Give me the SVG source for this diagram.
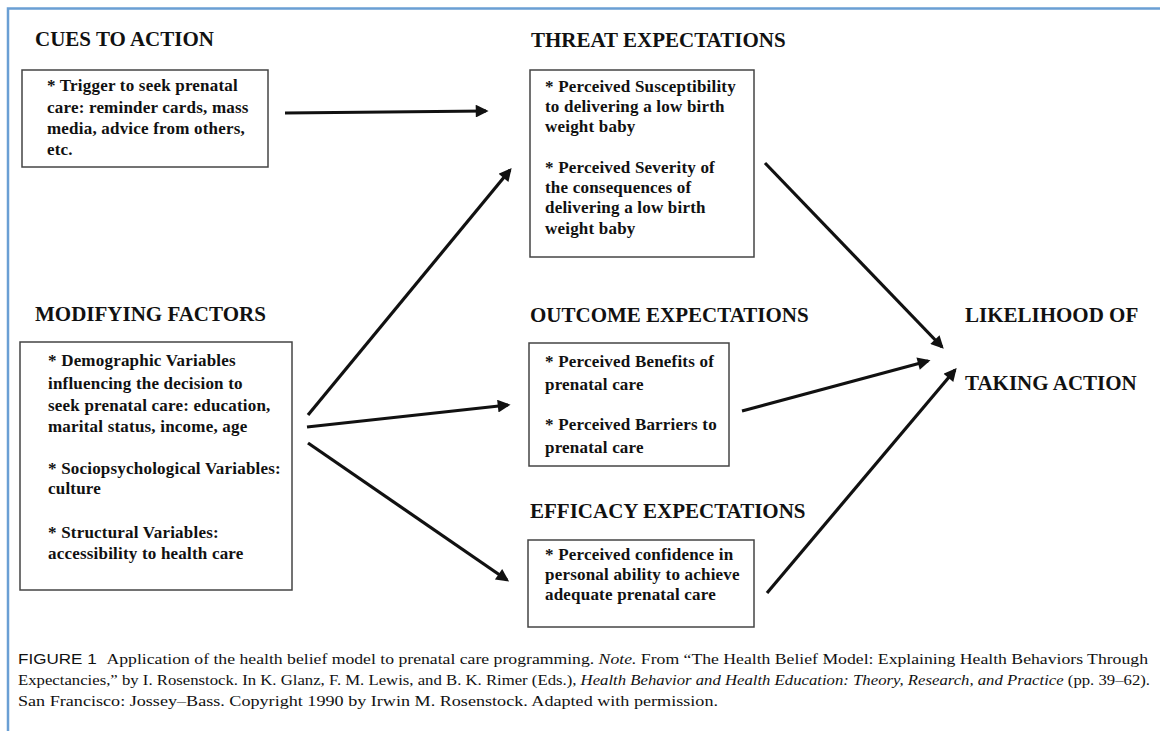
<svg xmlns="http://www.w3.org/2000/svg" width="1160" height="731" viewBox="0 0 1160 731">
<defs>
<style>
.h{font-family:"Liberation Serif","Times New Roman",serif;font-weight:bold;font-size:21px;fill:#111}
.t{font-family:"Liberation Serif","Times New Roman",serif;font-weight:bold;font-size:17px;letter-spacing:0.2px;fill:#111}
.box{fill:#fff;stroke:#444;stroke-width:1.5}
.c{stroke:#111;stroke-width:3.2;fill:none;marker-end:url(#ah)}
.cap{font-family:"Liberation Serif","Times New Roman",serif;font-size:14.5px;fill:#111}
.capsans{font-family:"Liberation Sans",Arial,sans-serif;font-size:14px}
</style>
<marker id="ah" viewBox="0 0 10 10" refX="8" refY="5" markerWidth="4.6" markerHeight="4" orient="auto" markerUnits="strokeWidth">
<path d="M0,0 L10,5 L0,10 z" fill="#111"/>
</marker>
</defs>
<rect width="1160" height="731" fill="#fff"/>
<path d="M8,731 V8.5 H1160" fill="none" stroke="#6a9fd4" stroke-width="2.5"/>

<g id="cues">
<text class="h" x="35" y="46">CUES TO ACTION</text>
<rect class="box" x="22" y="70" width="246" height="97"/>
<text class="t" x="47" y="91">* Trigger to seek prenatal</text>
<text class="t" x="47" y="113">care: reminder cards, mass</text>
<text class="t" x="47" y="134">media, advice from others,</text>
<text class="t" x="47" y="155">etc.</text>
</g>

<g id="threat">
<text class="h" x="531" y="47">THREAT EXPECTATIONS</text>
<rect class="box" x="530" y="70" width="224" height="187"/>
<text class="t" x="545" y="92">* Perceived Susceptibility</text>
<text class="t" x="545" y="112">to delivering a low birth</text>
<text class="t" x="545" y="132">weight baby</text>
<text class="t" x="545" y="173">* Perceived Severity of</text>
<text class="t" x="545" y="193">the consequences of</text>
<text class="t" x="545" y="213">delivering a low birth</text>
<text class="t" x="545" y="234">weight baby</text>
</g>

<g id="modifying">
<text class="h" x="35" y="321">MODIFYING FACTORS</text>
<rect class="box" x="20" y="342" width="272" height="248"/>
<text class="t" x="48" y="366">* Demographic Variables</text>
<text class="t" x="48" y="389">influencing the decision to</text>
<text class="t" x="48" y="411">seek prenatal care: education,</text>
<text class="t" x="48" y="432">marital status, income, age</text>
<text class="t" x="48" y="474">* Sociopsychological Variables:</text>
<text class="t" x="48" y="494">culture</text>
<text class="t" x="48" y="538">* Structural Variables:</text>
<text class="t" x="48" y="559">accessibility to health care</text>
</g>

<g id="outcome">
<text class="h" x="530" y="322">OUTCOME EXPECTATIONS</text>
<rect class="box" x="529" y="343" width="200" height="123"/>
<text class="t" x="545" y="367">* Perceived Benefits of</text>
<text class="t" x="545" y="390">prenatal care</text>
<text class="t" x="545" y="430">* Perceived Barriers to</text>
<text class="t" x="545" y="453">prenatal care</text>
</g>

<g id="efficacy">
<text class="h" x="530" y="518">EFFICACY EXPECTATIONS</text>
<rect class="box" x="528" y="540" width="226" height="87"/>
<text class="t" x="545" y="560">* Perceived confidence in</text>
<text class="t" x="545" y="580">personal ability to achieve</text>
<text class="t" x="545" y="600">adequate prenatal care</text>
</g>

<g id="likelihood">
<text class="h" x="965" y="322">LIKELIHOOD OF</text>
<text class="h" x="965" y="390">TAKING ACTION</text>
</g>

<g id="connectors">
<line class="c" x1="285" y1="113" x2="486" y2="111"/>
<line class="c" x1="308" y1="415" x2="510" y2="170"/>
<line class="c" x1="307" y1="427" x2="508" y2="405"/>
<line class="c" x1="308" y1="443" x2="507" y2="580"/>
<line class="c" x1="765" y1="163" x2="942" y2="347"/>
<line class="c" x1="742" y1="411" x2="928" y2="361"/>
<line class="c" x1="767" y1="593" x2="955" y2="370"/>
</g>

<g id="caption">
<text class="cap" x="18" y="664" textLength="1130" lengthAdjust="spacingAndGlyphs"><tspan class="capsans">FIGURE 1</tspan><tspan dx="8">Application of the health belief model to prenatal care programming. </tspan><tspan font-style="italic">Note.</tspan> From “The Health Belief Model: Explaining Health Behaviors Through</text>
<text class="cap" x="18" y="685" textLength="1132" lengthAdjust="spacingAndGlyphs">Expectancies,” by I. Rosenstock. In K. Glanz, F. M. Lewis, and B. K. Rimer (Eds.), <tspan font-style="italic">Health Behavior and Health Education: Theory, Research, and Practice</tspan> (pp. 39–62).</text>
<text class="cap" x="18" y="706" textLength="700" lengthAdjust="spacingAndGlyphs">San Francisco: Jossey–Bass. Copyright 1990 by Irwin M. Rosenstock. Adapted with permission.</text>
</g>
</svg>
